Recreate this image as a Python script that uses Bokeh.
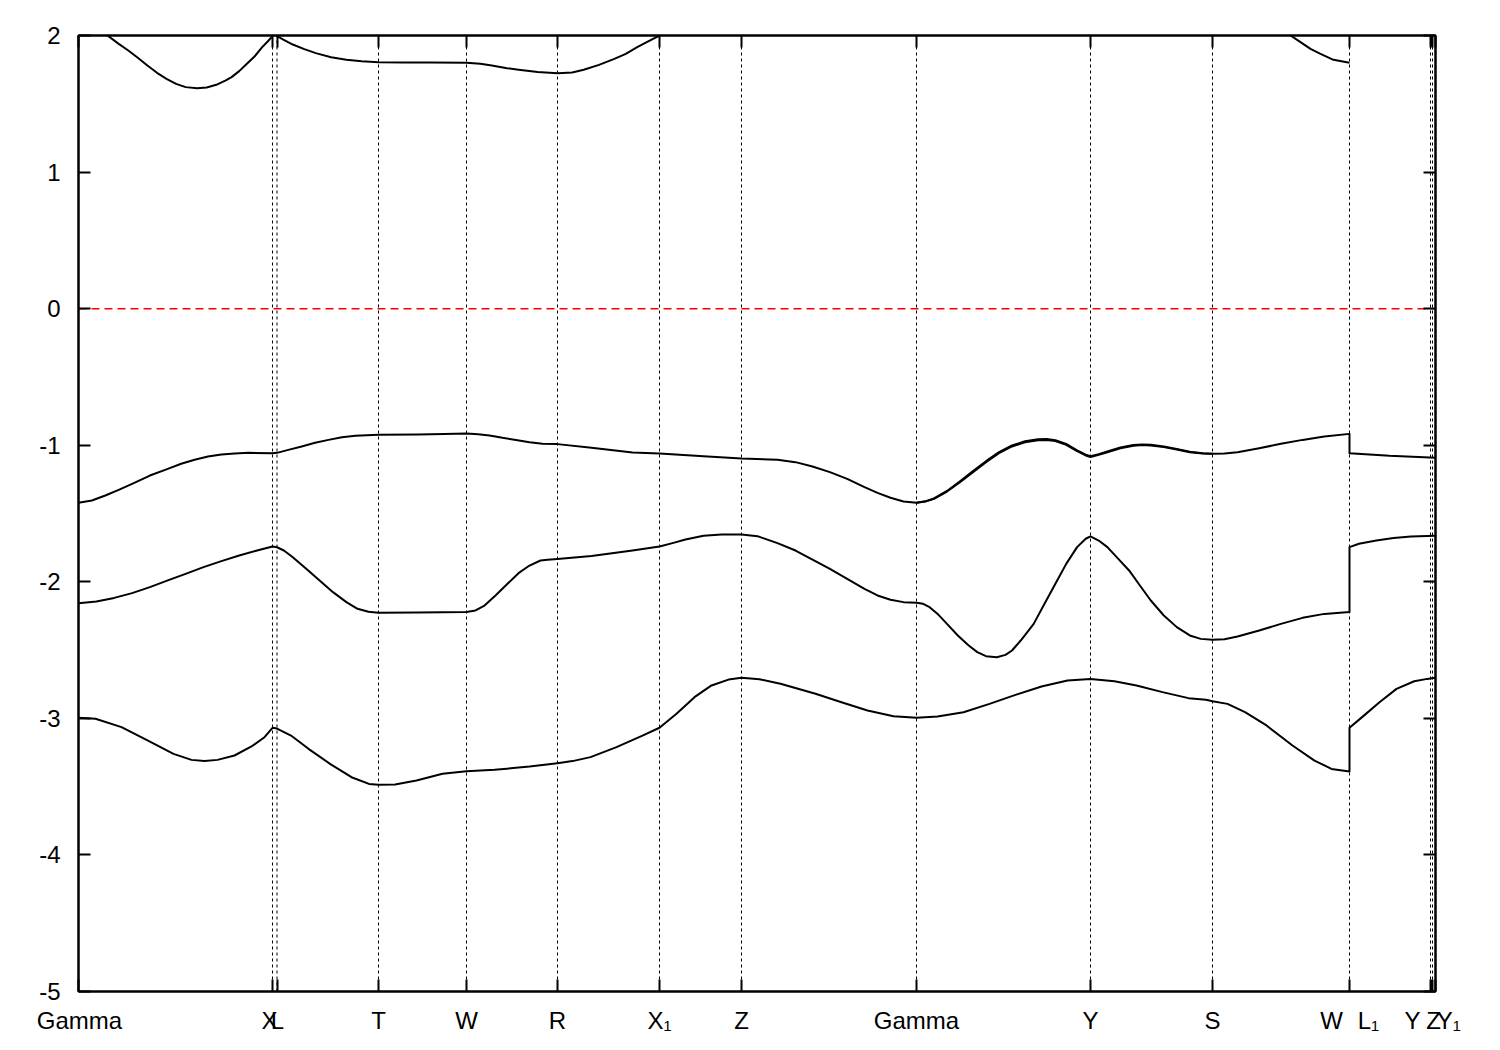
import math
from bokeh.plotting import figure
from bokeh.models import Range1d, FixedTicker, LinearAxis
from bokeh.embed import file_html
from bokeh.resources import INLINE

NAN = float("nan")
NBSP = "\u00a0"

# High-symmetry points along the k-path (path length, arbitrary units)
kpt_labels = ["Gamma", "X", "L", "T", "W", "R", "X\u2081", "Z", "Gamma", "Y", "S", "W", "L\u2081", "Y", "Z",
              NBSP * 4 + "Y\u2081"]
kpt_pos = [0.000, 0.194, 0.1985, 0.300, 0.388, 0.479, 0.581, 0.663, 0.838, 1.012, 1.134, 1.271, 1.271, 1.352, 1.354, 1.357]
# small sideways shift of the label text (k units), as printed in the original
kpt_label_shift = [0.001, -0.003, 0.0005, 0, 0, 0, 0, 0, 0, 0, 0, -0.018, 0.019, -0.018, 0.001, 0.0]

y_ticks = [-5, -4, -3, -2, -1, 0, 1, 2]
y_tick_labels = ["-5", "-4", "-3", "-2", "-1", "0", "1", "2"]

# Band 1 (lowest)
k_band1 = [0.000, 0.017, 0.043, 0.069, 0.095, 0.113, 0.126, 0.139, 0.156, 0.173, 0.186, 0.194, 0.1985, 0.2125,
           0.230, 0.2515, 0.273, 0.2905, 0.300, 0.3166, 0.338, 0.364, 0.388, 0.416, 0.451, 0.479, 0.494, 0.512,
           0.538, 0.564, 0.581, 0.598, 0.616, 0.633, 0.650, 0.663, 0.681, 0.702, 0.737, 0.763, 0.789, 0.815,
           0.838, 0.859, 0.885, 0.911, 0.937, 0.963, 0.989, 1.012, 1.036, 1.058, 1.084, 1.110, 1.1275, 1.134,
           1.149, 1.1665, 1.188, 1.214, 1.236, 1.253, 1.271, 1.271, 1.2836, 1.301, 1.318, 1.3357, 1.3487, 1.357]
e_band1 = [-2.996, -3.003, -3.064, -3.162, -3.260, -3.304, -3.313, -3.304, -3.272, -3.206, -3.138, -3.069, -3.075,
           -3.126, -3.223, -3.333, -3.431, -3.480, -3.487, -3.484, -3.455, -3.406, -3.387, -3.377, -3.353, -3.328,
           -3.313, -3.284, -3.211, -3.126, -3.069, -2.967, -2.845, -2.759, -2.716, -2.703, -2.713, -2.747, -2.820,
           -2.882, -2.943, -2.984, -2.996, -2.986, -2.955, -2.894, -2.828, -2.767, -2.723, -2.711, -2.728, -2.759,
           -2.808, -2.852, -2.864, -2.874, -2.894, -2.955, -3.052, -3.199, -3.309, -3.370, -3.389, -3.069, -2.991,
           -2.882, -2.784, -2.728, -2.711, -2.703]

# Band 2
k_band2 = [0.000, 0.0179, 0.0357, 0.0536, 0.0714, 0.0893, 0.1071, 0.125, 0.1429, 0.1607, 0.1786, 0.194, 0.1985,
           0.2054, 0.2143, 0.2277, 0.2411, 0.2545, 0.2679, 0.279, 0.290, 0.300, 0.339, 0.388, 0.397, 0.406, 0.417,
           0.429, 0.440, 0.451, 0.462, 0.469, 0.479, 0.513, 0.554, 0.581, 0.594, 0.607, 0.625, 0.643, 0.663,
           0.679, 0.699, 0.717, 0.734, 0.7514, 0.7687, 0.786, 0.799, 0.812, 0.825, 0.838, 0.8446, 0.8511, 0.8598,
           0.8685, 0.8793, 0.8902, 0.8988, 0.9075, 0.9183, 0.927, 0.9335, 0.9422, 0.9552, 0.966, 0.9769, 0.9877,
           0.9986, 1.0072, 1.012, 1.0202, 1.0289, 1.0398, 1.0506, 1.0614, 1.0723, 1.0853, 1.0983, 1.1113, 1.1222,
           1.134, 1.146, 1.159, 1.1807, 1.2024, 1.2241, 1.2458, 1.271, 1.271, 1.2804, 1.2978, 1.3151, 1.3325, 1.357]
e_band2 = [-2.157, -2.144, -2.118, -2.083, -2.039, -1.990, -1.942, -1.893, -1.849, -1.808, -1.771, -1.742, -1.747,
           -1.771, -1.820, -1.905, -1.990, -2.076, -2.149, -2.198, -2.220, -2.227, -2.225, -2.222, -2.210, -2.174,
           -2.101, -2.015, -1.937, -1.881, -1.844, -1.839, -1.834, -1.812, -1.771, -1.742, -1.717, -1.690, -1.663,
           -1.654, -1.654, -1.666, -1.717, -1.771, -1.837, -1.905, -1.978, -2.052, -2.100, -2.132, -2.149, -2.154,
           -2.161, -2.186, -2.240, -2.308, -2.393, -2.467, -2.515, -2.545, -2.552, -2.535, -2.503, -2.430, -2.308,
           -2.161, -2.015, -1.869, -1.746, -1.685, -1.668, -1.698, -1.746, -1.832, -1.917, -2.027, -2.137, -2.247,
           -2.332, -2.393, -2.418, -2.425, -2.420, -2.401, -2.357, -2.308, -2.264, -2.235, -2.222, -1.746, -1.722,
           -1.698, -1.680, -1.668, -1.663]

# Band 3
k_band3 = [0.000, 0.0134, 0.0268, 0.0402, 0.0536, 0.0714, 0.0893, 0.1027, 0.1161, 0.1295, 0.1429, 0.1563, 0.1696,
           0.194, 0.1985, 0.2098, 0.2232, 0.2366, 0.250, 0.2634, 0.2768, 0.300, 0.339, 0.366, 0.388, 0.3996,
           0.411, 0.424, 0.4375, 0.451, 0.464, 0.479, 0.513, 0.554, 0.581, 0.625, 0.663, 0.699, 0.717, 0.734,
           0.7514, 0.7687, 0.786, 0.799, 0.812, 0.825, 0.838, 0.8468, 0.8555, 0.8685, 0.8815, 0.8945, 0.9075,
           0.9205, 0.9335, 0.9465, 0.9595, 0.9682, 0.9769, 0.9877, 0.9986, 1.0072, 1.012, 1.0202, 1.0289, 1.0419,
           1.0549, 1.0636, 1.0723, 1.0853, 1.0983, 1.1113, 1.1243, 1.134, 1.146, 1.159, 1.1807, 1.2024, 1.2241,
           1.2458, 1.271, 1.271, 1.311, 1.357]
e_band3 = [-1.422, -1.405, -1.368, -1.327, -1.283, -1.222, -1.173, -1.136, -1.107, -1.083, -1.068, -1.061, -1.056,
           -1.058, -1.056, -1.034, -1.009, -0.982, -0.961, -0.941, -0.931, -0.924, -0.921, -0.917, -0.914, -0.919,
           -0.929, -0.946, -0.961, -0.978, -0.990, -0.992, -1.019, -1.053, -1.061, -1.080, -1.097, -1.107, -1.124,
           -1.156, -1.197, -1.246, -1.307, -1.349, -1.385, -1.412, -1.422, -1.412, -1.393, -1.339, -1.270, -1.197,
           -1.124, -1.058, -1.009, -0.978, -0.963, -0.961, -0.970, -0.997, -1.043, -1.075, -1.087, -1.070, -1.051,
           -1.022, -1.004, -0.999, -1.002, -1.014, -1.031, -1.051, -1.061, -1.063, -1.061, -1.051, -1.022, -0.990,
           -0.961, -0.936, -0.917, -1.058, -1.078, -1.092]

# Band 4 (partner of band 3, split only between Gamma and S)
k_band4 = [0.838, 0.8468, 0.8555, 0.8685, 0.8815, 0.8945, 0.9075, 0.9205, 0.9335, 0.9465, 0.9595, 0.9682, 0.9769,
           0.9877, 0.9986, 1.0072, 1.012, 1.0202, 1.0289, 1.0419, 1.0549, 1.0636, 1.0723, 1.0853, 1.0983, 1.1113,
           1.1243, 1.134]
e_band4 = [-1.422, -1.411, -1.390, -1.335, -1.264, -1.190, -1.117, -1.051, -1.002, -0.971, -0.956, -0.954, -0.963,
           -0.990, -1.037, -1.069, -1.081, -1.065, -1.046, -1.017, -0.999, -0.994, -0.997, -1.009, -1.027, -1.048,
           -1.059, -1.063]

# Band 5 (conduction band, visible only below 2 eV)
k_band5 = [0.029, 0.0402, 0.0498, 0.0593, 0.0689, 0.0785, 0.088, 0.0976, 0.1072, 0.1186, 0.1282, 0.1378, 0.1473,
           0.1531, 0.1607, 0.1684, 0.176, 0.1837, 0.1894, 0.194, NAN,
           0.1985, 0.2067, 0.2143, 0.2258, 0.2373, 0.2526, 0.2679, 0.2832, 0.300, 0.3253, 0.3521, 0.388, 0.4018,
           0.4133, 0.4286, 0.4401, 0.4592, 0.479, 0.4937, 0.5052, 0.5205, 0.5358, 0.5473, 0.5587, 0.5702, 0.581, NAN,
           1.212, 1.222, 1.232, 1.242, 1.255, 1.271]
e_band5 = [2.000, 1.939, 1.890, 1.837, 1.780, 1.727, 1.683, 1.646, 1.622, 1.614, 1.619, 1.639, 1.671,
           1.695, 1.739, 1.793, 1.846, 1.915, 1.958, 1.995, NAN,
           1.995, 1.963, 1.934, 1.900, 1.871, 1.841, 1.822, 1.812, 1.805, 1.802, 1.802, 1.800, 1.793,
           1.780, 1.761, 1.749, 1.732, 1.724, 1.729, 1.749, 1.785, 1.829, 1.866, 1.915, 1.959, 2.000, NAN,
           2.000, 1.951, 1.902, 1.866, 1.822, 1.800]

fermi_level = 0.0

FONT = "Liberation Sans"
K_START, K_END = kpt_pos[0], kpt_pos[-1]

p = figure(width=1492, height=1042, x_range=Range1d(K_START, K_END), y_range=Range1d(-5, 2),
           output_backend="svg", toolbar_location=None, x_axis_location=None, y_axis_location=None,
           min_border_left=78, min_border_right=57, min_border_top=35, min_border_bottom=51)
p.grid.visible = False
p.outline_line_color = "black"
p.outline_line_width = 2
p.background_fill_color = "white"
p.border_fill_color = "white"

unique_k = sorted(set(kpt_pos))


def tick_axis(ticks):
    ax = LinearAxis(ticker=FixedTicker(ticks=ticks))
    ax.major_label_overrides = {t: "" for t in ticks}
    ax.major_label_text_font_size = "1px"
    ax.major_label_standoff = 0
    ax.major_tick_in = 12
    ax.major_tick_out = 0
    ax.minor_tick_line_color = None
    ax.axis_line_color = "black"
    ax.axis_line_width = 2
    ax.major_tick_line_width = 2
    ax.major_tick_line_color = "black"
    return ax


# bottom: tick marks at the high-symmetry points
p.add_layout(tick_axis(unique_k), "below")
# bottom: labels of the high-symmetry points
lab_pos = [min(max(k + s, K_START), K_END) for k, s in zip(kpt_pos, kpt_label_shift)]
lab_ax = LinearAxis(ticker=FixedTicker(ticks=lab_pos))
lab_ax.major_label_overrides = {t: l for t, l in zip(lab_pos, kpt_labels)}
lab_ax.major_label_text_font = FONT
lab_ax.major_label_text_font_size = "24px"
lab_ax.major_label_text_color = "black"
lab_ax.major_label_standoff = 9
lab_ax.major_tick_line_color = None
lab_ax.minor_tick_line_color = None
lab_ax.axis_line_color = None
p.add_layout(lab_ax, "below")
# top mirror ticks
p.add_layout(tick_axis(unique_k), "above")

# left axis with labels
yax = LinearAxis(ticker=FixedTicker(ticks=y_ticks))
yax.major_label_overrides = {t: l for t, l in zip(y_ticks, y_tick_labels)}
yax.major_tick_in = 12
yax.major_tick_out = 0
yax.minor_tick_line_color = None
yax.axis_line_color = "black"
yax.axis_line_width = 2
yax.major_tick_line_width = 2
yax.major_label_text_font = FONT
yax.major_label_text_font_size = "24px"
yax.major_label_text_color = "black"
yax.major_label_standoff = 18
p.add_layout(yax, "left")
# right mirror ticks
p.add_layout(tick_axis(y_ticks), "right")

# vertical dotted lines at the inner high-symmetry points
inner = [k for k in unique_k if K_START < k < K_END]
p.segment(x0=inner, y0=[-5] * len(inner), x1=inner, y1=[2] * len(inner),
          line_color="black", line_width=1, line_dash="3 3")

# Fermi level
p.line(x=[K_START, K_END], y=[fermi_level, fermi_level], line_color="#ff0000",
       line_width=1.5, line_dash="8 5")

for kk, ee in [(k_band1, e_band1), (k_band2, e_band2), (k_band3, e_band3), (k_band4, e_band4), (k_band5, e_band5)]:
    p.line(x=kk, y=ee, line_color="black", line_width=2, line_join="round")

open("out.html", "w").write(file_html(p, INLINE))
